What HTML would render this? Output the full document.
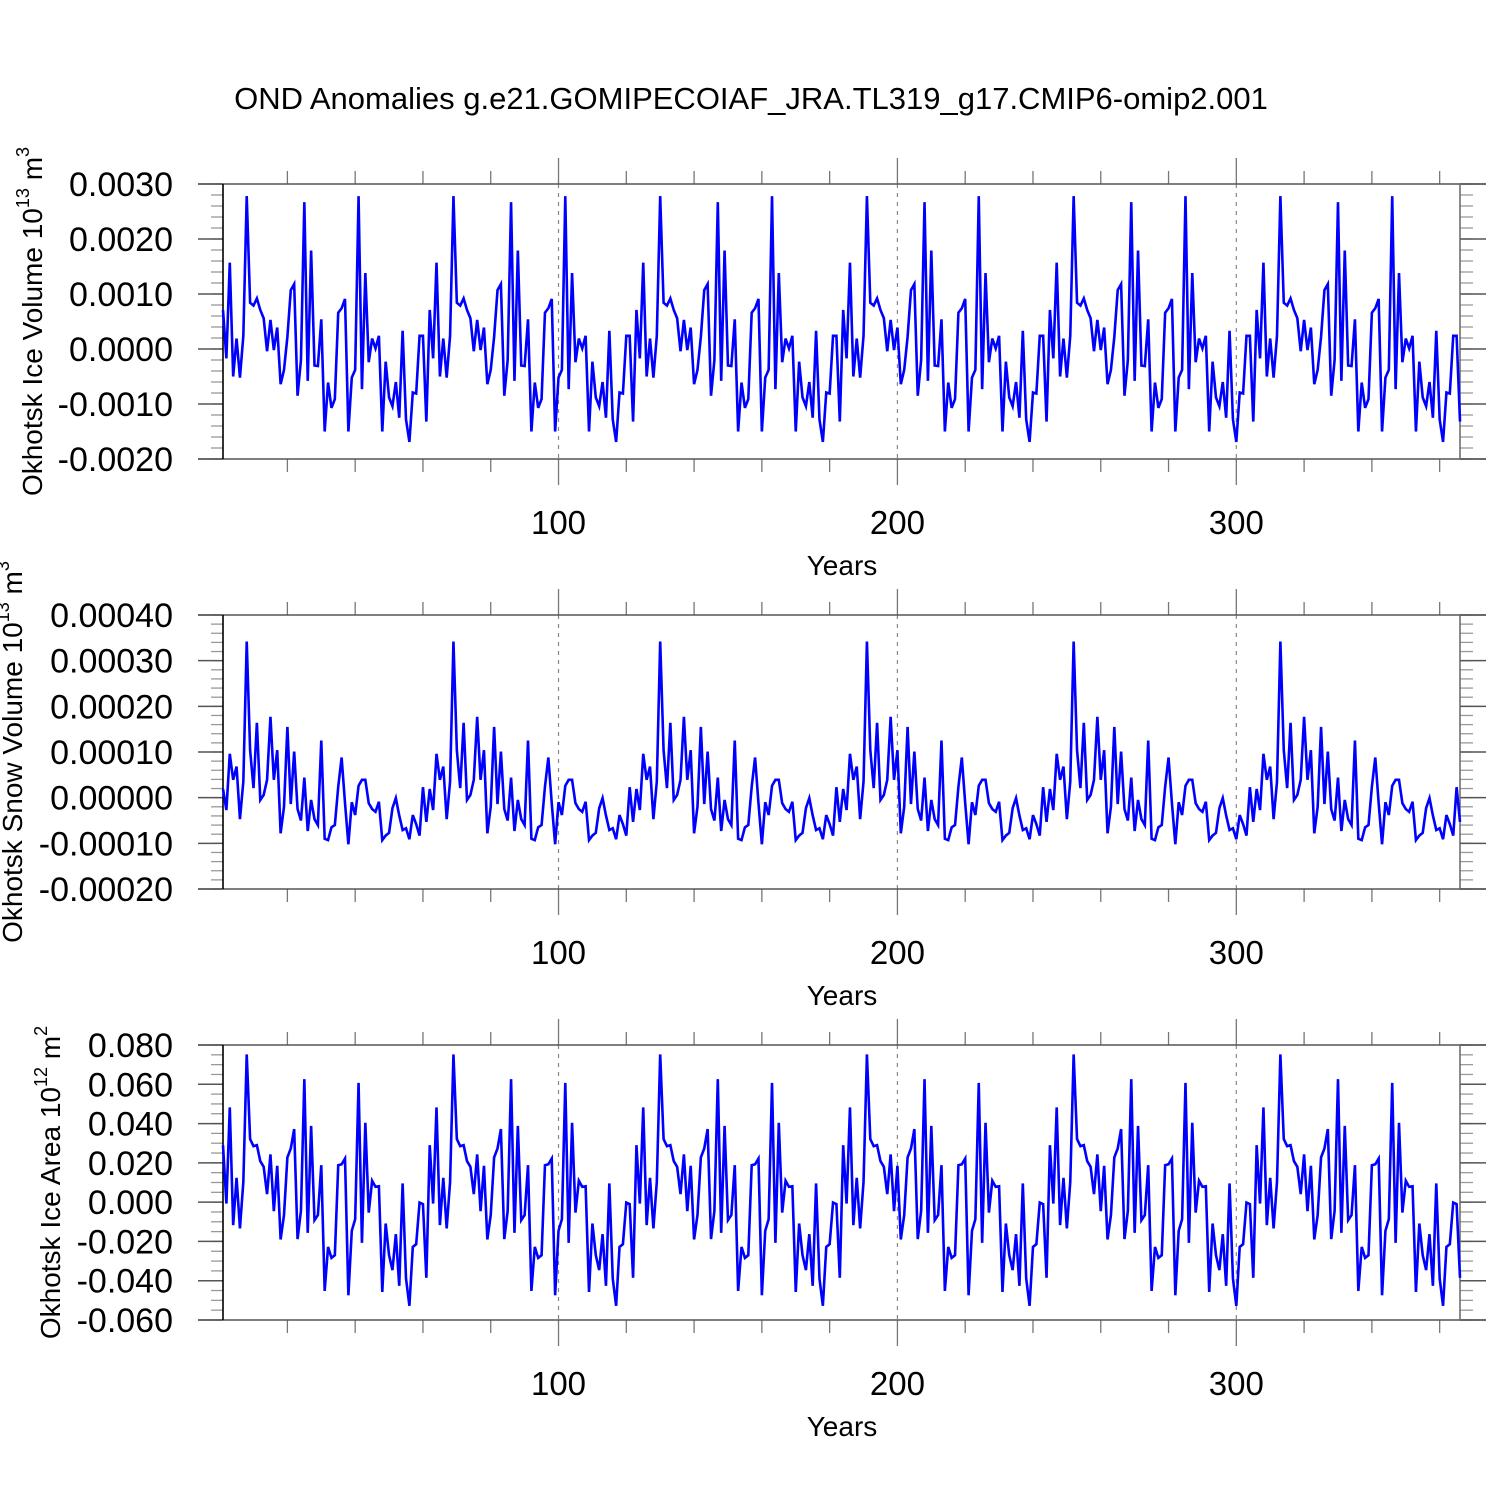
<!DOCTYPE html>
<html><head><meta charset="utf-8"><style>
html,body{margin:0;padding:0;background:#fff;}
svg{display:block;font-family:"Liberation Sans",Arial,sans-serif;}
</style></head><body>
<svg id="chart" width="1500" height="1500" viewBox="0 0 1500 1500" xmlns="http://www.w3.org/2000/svg">
<rect width="1500" height="1500" fill="#fff"/>
<text x="751" y="109" font-size="31" text-anchor="middle">OND Anomalies g.e21.GOMIPECOIAF_JRA.TL319_g17.CMIP6-omip2.001</text>
</svg>
<script>
// One 61-year forcing cycle (JRA cycles repeated 6x)
const cycleIceVolume = [0.71,-0.17,1.57,-0.50,0.19,-0.52,0.24,2.78,0.84,0.79,0.92,0.71,0.56,-0.04,0.53,-0.02,0.39,-0.64,-0.38,0.22,1.07,1.18,-0.85,-0.20,2.67,-0.58,1.79,-0.30,-0.31,0.54,-1.50,-0.61,-1.07,-0.91,0.66,0.74,0.91,-1.50,-0.52,-0.38,2.78,-0.73,1.38,-0.24,0.19,0.01,0.24,-1.50,-0.23,-0.88,-1.04,-0.60,-1.25,0.33,-1.28,-1.69,-0.79,-0.81,0.24,0.24,-1.32].map(v=>v*1e-3);
const cycleSnowVolume = [0.19,-0.27,0.96,0.39,0.68,-0.47,0.35,3.42,1.04,0.21,1.64,-0.05,0.06,0.39,1.77,0.39,1.04,-0.78,-0.20,1.55,-0.14,1.01,-0.25,-0.50,0.44,-0.73,-0.05,-0.47,-0.60,1.25,-0.90,-0.93,-0.65,-0.60,0.24,0.88,-0.12,-1.02,-0.10,-0.38,0.26,0.39,0.39,-0.12,-0.25,-0.31,-0.09,-0.93,-0.83,-0.77,-0.23,-0.01,-0.39,-0.71,-0.67,-0.91,-0.38,-0.58,-0.83,0.23,-0.53].map(v=>v*1e-4);
const cycleIceArea = [2.90,-0.07,4.82,-1.17,1.24,-1.34,1.03,7.52,3.21,2.85,2.90,2.09,1.80,0.41,2.43,-0.46,1.85,-1.90,-0.66,2.28,2.73,3.72,-1.88,-0.44,6.26,-1.56,3.88,-0.92,-0.66,1.88,-4.52,-2.28,-2.84,-2.70,1.88,1.93,2.22,-4.74,-1.46,-0.87,6.07,-2.07,4.04,-0.53,1.09,0.78,0.81,-4.57,-1.09,-2.70,-3.46,-1.63,-4.26,0.95,-3.89,-5.28,-2.28,-2.14,-0.02,-0.10,-3.85].map(v=>v*1e-2);
const iceVolume = [...cycleIceVolume,...cycleIceVolume,...cycleIceVolume,...cycleIceVolume,...cycleIceVolume,...cycleIceVolume];
const snowVolume = [...cycleSnowVolume,...cycleSnowVolume,...cycleSnowVolume,...cycleSnowVolume,...cycleSnowVolume,...cycleSnowVolume];
const iceArea = [...cycleIceArea,...cycleIceArea,...cycleIceArea,...cycleIceArea,...cycleIceArea,...cycleIceArea];
const years = iceVolume.map((_,i)=>i+1);
const xTickValues = [100,200,300];
const iceVolumeTicks = [0.003,0.002,0.001,0,-0.001,-0.002];
const iceVolumeTickLabels = ["0.0030","0.0020","0.0010","0.0000","-0.0010","-0.0020"];
const snowVolumeTicks = [0.0004,0.0003,0.0002,0.0001,0,-0.0001,-0.0002];
const snowVolumeTickLabels = ["0.00040","0.00030","0.00020","0.00010","0.00000","-0.00010","-0.00020"];
const iceAreaTicks = [0.08,0.06,0.04,0.02,0,-0.02,-0.04,-0.06];
const iceAreaTickLabels = ["0.080","0.060","0.040","0.020","0.000","-0.020","-0.040","-0.060"];

const NS="http://www.w3.org/2000/svg";
const svg=document.getElementById('chart');
function mk(tag,attrs,parent){const e=document.createElementNS(NS,tag);for(const k in attrs)e.setAttribute(k,attrs[k]);(parent||svg).appendChild(e);return e;}
const X0=223,X1=1460,XMIN=1,XMAX=366;
function xs(v){return X0+(v-XMIN)/(XMAX-XMIN)*(X1-X0);}

function panel(cfg){
  const g=mk('g',{});
  
  
  const ys=v=>cfg.top+(cfg.ymax-v)/(cfg.ymax-cfg.ymin)*(cfg.bot-cfg.top);
  xTickValues.forEach(t=>{const l=mk('line',{x1:xs(t),x2:xs(t),y1:cfg.top,y2:cfg.bot,stroke:'#888','stroke-width':1.2,'stroke-dasharray':'4,5'},g);
    
    });
  const step=(cfg.ymax-cfg.ymin)/cfg.nminor;
  for(let i=0;i<=cfg.nminor;i++){const y=ys(cfg.ymax-i*step);
    mk('line',{x1:211,x2:X0,y1:y,y2:y,stroke:'#999','stroke-width':1.3},g);
    mk('line',{x1:X1,x2:1473,y1:y,y2:y,stroke:'#999','stroke-width':1.3},g);}
  cfg.ticks.forEach((t,i)=>{const y=ys(t);
    mk('line',{x1:198,x2:X0,y1:y,y2:y,stroke:'#555','stroke-width':1.5},g);
    mk('line',{x1:X1,x2:1486,y1:y,y2:y,stroke:'#555','stroke-width':1.5},g);
    const tx=mk('text',{x:173,y:y+12,'font-size':34,'text-anchor':'end'},g);
    tx.textContent=cfg.labels[i];
    
    });
  for(let yr=20;yr<=360;yr+=20){const x=xs(yr);const major=yr%100===0;
    mk('line',{x1:x,x2:x,y1:cfg.top-(major?26:13),y2:cfg.top,stroke:'#777','stroke-width':1.3},g);
    mk('line',{x1:x,x2:x,y1:cfg.bot,y2:cfg.bot+(major?26:13),stroke:'#777','stroke-width':1.3},g);}
  xTickValues.forEach(t=>{const tx=mk('text',{x:xs(t),y:cfg.bot+75,'font-size':33,'text-anchor':'middle'},g);
    tx.textContent=t;
    
    });
  const xt=mk('text',{x:842,y:cfg.bot+116,'font-size':28,'text-anchor':'middle'},g);
  xt.textContent='Years';
  
  
  mk('line',{x1:198,x2:1486,y1:cfg.top,y2:cfg.top,stroke:'#555','stroke-width':1.5},g);
  mk('line',{x1:198,x2:1486,y1:cfg.bot,y2:cfg.bot,stroke:'#555','stroke-width':1.5},g);
  mk('line',{x1:X1,x2:X1,y1:cfg.top,y2:cfg.bot,stroke:'#666','stroke-width':1.5},g);
  mk('line',{x1:X0,x2:X0,y1:cfg.top,y2:cfg.bot,stroke:'#000','stroke-width':1.6},g);
  const d=cfg.data.map((v,i)=>(i?'L':'M')+xs(years[i]).toFixed(2)+','+ys(v).toFixed(2)).join('');
  const p=mk('path',{d:d,fill:'none',stroke:'#0000ff','stroke-width':2.6,'stroke-linejoin':'miter'},g);
  
  
  const cy=(cfg.top+cfg.bot)/2+cfg.tyoff;
  const t=mk('text',{transform:`translate(${cfg.tx},${cy}) rotate(-90)`,'font-size':28,'text-anchor':'middle'},g);
  
  
  t.innerHTML=cfg.title+' 10<tspan font-size="18" dy="-13">'+cfg.exp+'</tspan><tspan dy="13"> m</tspan><tspan font-size="18" dy="-13">'+cfg.unit+'</tspan>';
}
panel({name:'ice-volume-panel',top:184,bot:459,ymin:-0.002,ymax:0.003,ticks:iceVolumeTicks,labels:iceVolumeTickLabels,nminor:25,data:iceVolume,title:'Okhotsk Ice Volume',exp:'13',unit:'3',tx:42,tyoff:0});
panel({name:'snow-volume-panel',top:615,bot:889,ymin:-0.0002,ymax:0.0004,ticks:snowVolumeTicks,labels:snowVolumeTickLabels,nminor:30,data:snowVolume,title:'Okhotsk Snow Volume',exp:'13',unit:'3',tx:22,tyoff:0});
panel({name:'ice-area-panel',top:1045,bot:1320,ymin:-0.06,ymax:0.08,ticks:iceAreaTicks,labels:iceAreaTickLabels,nminor:28,data:iceArea,title:'Okhotsk Ice Area',exp:'12',unit:'2',tx:60,tyoff:0});
</script>
</body></html>
